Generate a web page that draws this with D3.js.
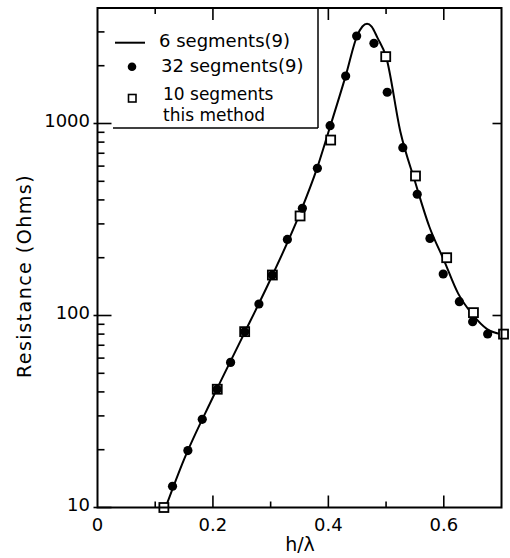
<!DOCTYPE html>
<html>
<head>
<meta charset="utf-8">
<script src="https://cdn.jsdelivr.net/npm/d3@7"></script>
<style>
  html, body { margin: 0; padding: 0; background: #fff; }
  svg { display: block; }
  text { font-family: "DejaVu Sans", sans-serif; fill: #000; }
</style>
</head>
<body>
<svg id="chart" width="510" height="558"></svg>
<script>
// ---- data ----
const lineX = [0.118, 0.15, 0.2, 0.25, 0.3, 0.35, 0.38, 0.4, 0.43, 0.45, 0.459, 0.467, 0.475, 0.485, 0.5, 0.525, 0.55, 0.575, 0.6, 0.625, 0.65, 0.675, 0.7];
const lineY = [10, 17.8, 37.5, 76, 155, 336, 580, 900, 1770, 2870, 3200, 3310, 3200, 2800, 2230, 900, 500, 290, 195, 130, 101, 85, 80];

const dotX = [0.13, 0.1566, 0.1815, 0.2075, 0.2306, 0.255, 0.2797, 0.303, 0.329, 0.355, 0.381, 0.403, 0.430, 0.449, 0.479, 0.502, 0.529, 0.554, 0.576, 0.599, 0.627, 0.65, 0.676];
const dotY = [12.9, 19.8, 28.8, 41.3, 57, 82.4, 114.8, 162.5, 249, 362, 584, 974, 1767, 2857, 2617, 1455, 748, 428, 252, 164.5, 118, 92.8, 80.1];

const sqX = [0.115, 0.2075, 0.255, 0.303, 0.351, 0.404, 0.4994, 0.551, 0.605, 0.6514, 0.7035];
const sqY = [10, 41.3, 82.4, 162.5, 330, 820, 2230, 533, 200, 103.5, 80];

const xMajorTicks = [0, 0.2, 0.4, 0.6];
const xTickLabels = ["0", "0.2", "0.4", "0.6"];
const xMinorTicks = [0.1, 0.3, 0.5];
const yMajorTicks = [10, 100, 1000];
const yTickLabels = ["10", "100", "1000"];
const yMinorTicks = [20, 30, 40, 50, 60, 70, 80, 90, 200, 300, 400, 500, 600, 700, 800, 900, 2000, 3000];
const legendLabels = ["6 segments(9)", "32 segments(9)", "10 segments", "this method"];
const xTitle = "h/\u03bb";
const yTitle = "Resistance (Ohms)";

// ---- layout ----
const svg = d3.select("#chart");
const L = 97.5, R = 501.5, T = 8, B = 507.5;
const x = d3.scaleLinear().domain([0, 0.7]).range([L, R]);
const y = d3.scaleLog().domain([10, 3996]).range([B, T]);

// curve
const pts = lineX.map((v, i) => [v, lineY[i]]);
const line = d3.line().x(d => x(d[0])).y(d => y(d[1])).curve(d3.curveMonotoneX);
svg.append("path").datum(pts).attr("d", line)
  .attr("fill", "none").attr("stroke", "#000").attr("stroke-width", 2);

// squares
const sq = sqX.map((v, i) => [v, sqY[i]]);
const s = 9;
svg.selectAll("rect.sq").data(sq).enter().append("rect").attr("class", "sq")
  .attr("x", d => x(d[0]) - s / 2).attr("y", d => y(d[1]) - s / 2)
  .attr("width", s).attr("height", s)
  .attr("fill", "#fff").attr("stroke", "#000").attr("stroke-width", 1.8);

// dots
const dots = dotX.map((v, i) => [v, dotY[i]]);
svg.selectAll("circle.dot").data(dots).enter().append("circle").attr("class", "dot")
  .attr("cx", d => x(d[0])).attr("cy", d => y(d[1])).attr("r", 4.6).attr("fill", "#000");

// legend box (white background with right and bottom borders)
const lgR = 318, lgB = 128;
svg.append("rect").attr("x", L + 1).attr("y", T + 1).attr("width", lgR - L - 1).attr("height", lgB - T - 1).attr("fill", "#fff");
svg.append("line").attr("x1", 113).attr("x2", lgR).attr("y1", lgB).attr("y2", lgB).attr("stroke", "#000").attr("stroke-width", 1.5);
svg.append("line").attr("x1", lgR).attr("x2", lgR).attr("y1", T).attr("y2", lgB).attr("stroke", "#000").attr("stroke-width", 1.5);

svg.append("line").attr("x1", 115).attr("x2", 145).attr("y1", 42.7).attr("y2", 42.7).attr("stroke", "#000").attr("stroke-width", 2);
svg.append("circle").attr("cx", 132).attr("cy", 66.7).attr("r", 4.3).attr("fill", "#000");
svg.append("rect").attr("x", 128.5).attr("y", 94.5).attr("width", 7.5).attr("height", 7.5)
  .attr("fill", "#fff").attr("stroke", "#000").attr("stroke-width", 1.6);

const lg = svg.append("g").attr("font-size", 18);
lg.append("text").attr("x", 159).attr("y", 47).text(legendLabels[0]);
lg.append("text").attr("x", 161).attr("y", 72).text(legendLabels[1]);
lg.append("text").attr("x", 163).attr("y", 100).attr("font-size", 17).text(legendLabels[2]);
lg.append("text").attr("x", 163).attr("y", 121).attr("font-size", 17).text(legendLabels[3]);

// frame
svg.append("rect").attr("x", L).attr("y", T).attr("width", R - L).attr("height", B - T)
  .attr("fill", "none").attr("stroke", "#000").attr("stroke-width", 2);

// ticks
const tk = svg.append("g").attr("stroke", "#000").attr("stroke-width", 1.6);
xMajorTicks.concat(xMinorTicks).forEach(v => {
  if (v === 0) return;
  const major = xMajorTicks.includes(v);
  const len = major ? 12 : 6;
  tk.append("line").attr("x1", x(v)).attr("x2", x(v)).attr("y1", B).attr("y2", B - len);
  if (x(v) > lgR || v === 0.1 || v === 0.2)
    tk.append("line").attr("x1", x(v)).attr("x2", x(v)).attr("y1", T).attr("y2", T + len);
});
yMinorTicks.forEach(v => {
  tk.append("line").attr("x1", L).attr("x2", L + 7).attr("y1", y(v)).attr("y2", y(v));
});
yMajorTicks.forEach(v => {
  tk.append("line").attr("x1", L - 4).attr("x2", L + 14).attr("y1", y(v)).attr("y2", y(v));
  if (v > 10) tk.append("line").attr("x1", R).attr("x2", R - 9).attr("y1", y(v)).attr("y2", y(v));
});

// tick labels
const tl = svg.append("g").attr("font-size", 18);
yMajorTicks.forEach((v, i) => {
  tl.append("text").attr("x", 90).attr("y", y(v) + 3).attr("text-anchor", "end").text(yTickLabels[i]);
});
xMajorTicks.forEach((v, i) => {
  tl.append("text").attr("x", x(v)).attr("y", 531).attr("text-anchor", "middle").text(xTickLabels[i]);
});

// axis titles
svg.append("text").attr("x", 300).attr("y", 551).attr("text-anchor", "middle").attr("font-size", 19).text(xTitle);
svg.append("text").attr("transform", "translate(31,276) rotate(-90)").attr("text-anchor", "middle")
  .attr("font-size", 19).attr("letter-spacing", 1.5).text(yTitle);
</script>
</body>
</html>
